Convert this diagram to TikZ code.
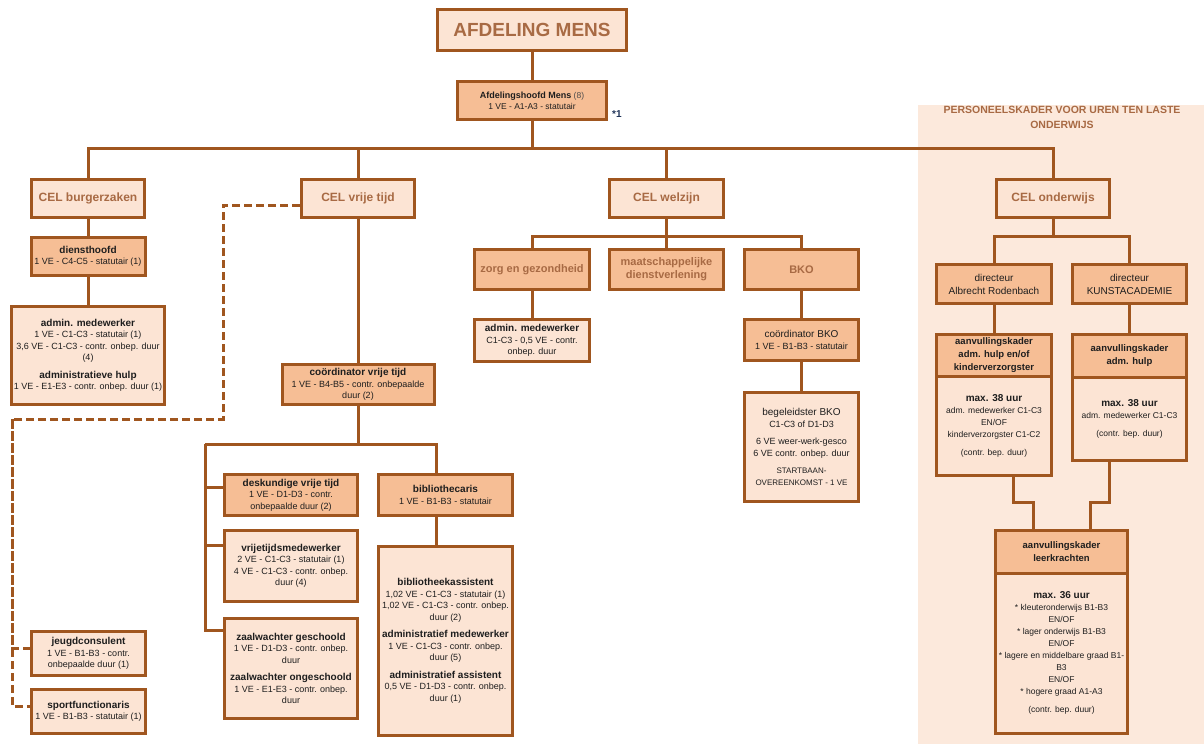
\documentclass[tikz,border=0pt]{standalone}
\usepackage{fontspec}
\setmainfont{Liberation Sans}
\definecolor{brd}{HTML}{A0561F}
\definecolor{lt}{HTML}{FCE4D4}
\definecolor{dk}{HTML}{F6BE95}
\definecolor{bgp}{HTML}{FCE9DC}
\definecolor{celtxt}{HTML}{A86A44}
\definecolor{txt}{HTML}{1E1E1E}
\definecolor{startxt}{HTML}{1F3358}
\newcommand\ttl[1]{{\fontsize{10}{12}\selectfont\bfseries #1}}
\tikzset{
 box/.style={draw=brd, line width=3pt, align=center, inner sep=2pt, text=txt, font=\fontsize{9}{11.5}\selectfont},
 lbox/.style={box, fill=lt},
 dbox/.style={box, fill=dk},
 cel/.style={lbox, text=celtxt, font=\fontsize{12}{14}\selectfont\bfseries},
 sub/.style={dbox, text=celtxt, font=\fontsize{11}{13}\selectfont\bfseries},
 conn/.style={draw=brd, line width=3pt},
 dconn/.style={conn, dash pattern=on 8pt off 4pt},
}
\begin{document}
\begin{tikzpicture}[x=1pt,y=-1pt]
\path[use as bounding box] (0,0) rectangle (1204,744);
\fill[bgp] (918,105) rectangle (1204,744);
\begin{scope}
\clip (918,105) rectangle (1204,744);
\node[font=\fontsize{10.5}{15}\selectfont\bfseries, text=celtxt, align=center] (ph) at (1062,117) {PERSONEELSKADER VOOR UREN TEN LASTE\\ONDERWIJS};
\end{scope}

% nodes
\node[lbox, minimum width=189, minimum height=41, text=celtxt, font=\fontsize{19}{22}\selectfont\bfseries] (top) at (532,30) {AFDELING MENS};
\node[dbox, minimum width=149, minimum height=38, font=\fontsize{8.5}{11}\selectfont] (head) at (532,100.5) {{\fontsize{9}{11}\selectfont\bfseries Afdelingshoofd Mens} {\color{gray!60!black}(8)}\\1 VE - A1-A3 - statutair};
\node[font=\fontsize{10}{12}\selectfont\bfseries, text=startxt, anchor=west, inner sep=0pt] (st) at (612,114) {*1};

\node[cel, minimum width=113, minimum height=38] (cb) at (88,198.5) {CEL burgerzaken};
\node[cel, minimum width=113, minimum height=38] (cv) at (358,198.5) {CEL vrije tijd};
\node[cel, minimum width=114, minimum height=38] (cw) at (666.5,198.5) {CEL welzijn};
\node[cel, minimum width=113, minimum height=38] (co) at (1053,198.5) {CEL onderwijs};

\node[dbox, minimum width=114, minimum height=38] (dh) at (88,256.5) {\ttl{diensthoofd}\\1 VE - C4-C5 - statutair (1)};
\node[lbox, minimum width=151, minimum height=98] (am1) at (88,355.5) {\ttl{admin. medewerker}\\1 VE - C1-C3 - statutair (1)\\3,6 VE - C1-C3 - contr. onbep. duur\\(4)\\[6pt]\ttl{administratieve hulp}\\1 VE - E1-E3 - contr. onbep. duur (1)};

\node[dbox, minimum width=152, minimum height=40] (cvt) at (358,384.5) {\ttl{coördinator vrije tijd}\\1 VE - B4-B5 - contr. onbepaalde\\duur (2)};
\node[dbox, minimum width=133, minimum height=41] (dvt) at (291,495) {\ttl{deskundige vrije tijd}\\1 VE - D1-D3 - contr.\\onbepaalde duur (2)};
\node[lbox, minimum width=133, minimum height=71] (vtm) at (291,566) {\ttl{vrijetijdsmedewerker}\\2 VE - C1-C3 - statutair (1)\\4 VE - C1-C3 - contr. onbep.\\duur (4)};
\node[lbox, minimum width=133, minimum height=100] (zw) at (291,668.5) {\ttl{zaalwachter geschoold}\\1 VE - D1-D3 - contr. onbep.\\duur\\[6pt]\ttl{zaalwachter ongeschoold}\\1 VE - E1-E3 - contr. onbep.\\duur};
\node[dbox, minimum width=134, minimum height=41] (bib) at (445.5,495) {\ttl{bibliothecaris}\\1 VE - B1-B3 - statutair};
\node[lbox, minimum width=134, minimum height=189] (bas) at (445.5,641) {\ttl{bibliotheekassistent}\\1,02 VE - C1-C3 - statutair (1)\\1,02 VE - C1-C3 - contr. onbep.\\duur (2)\\[6pt]\ttl{administratief medewerker}\\1 VE - C1-C3 - contr. onbep.\\duur (5)\\[6pt]\ttl{administratief assistent}\\0,5 VE - D1-D3 - contr. onbep.\\duur (1)};
\node[lbox, minimum width=114, minimum height=44] (jc) at (88.5,653.5) {\ttl{jeugdconsulent}\\1 VE - B1-B3 - contr.\\onbepaalde duur (1)};
\node[lbox, minimum width=114, minimum height=44] (sf) at (88.5,711.5) {\ttl{sportfunctionaris}\\1 VE - B1-B3 - statutair (1)};

\node[sub, minimum width=115, minimum height=40] (zg) at (532,269.5) {zorg en gezondheid};
\node[sub, minimum width=114, minimum height=40] (md) at (666.5,269.5) {maatschappelijke\\dienstverlening};
\node[sub, minimum width=114, minimum height=40] (bko) at (801.5,269.5) {BKO};
\node[lbox, minimum width=115, minimum height=42] (amw) at (532,340.5) {\ttl{admin. medewerker}\\C1-C3 - 0,5 VE - contr.\\onbep. duur};
\node[dbox, minimum width=114, minimum height=41] (cbko) at (801.5,340) {{\fontsize{10}{12}\selectfont coördinator BKO}\\1 VE - B1-B3 - statutair};
\node[lbox, minimum width=114, minimum height=109] (beg) at (801.5,447) {{\fontsize{10}{12}\selectfont begeleidster BKO}\\C1-C3 of D1-D3\\[6pt]6 VE weer-werk-gesco\\6 VE contr. onbep. duur\\[6pt]{\fontsize{8}{10}\selectfont STARTBAAN-}\\{\fontsize{8}{10}\selectfont OVEREENKOMST - 1 VE}};

\node[dbox, minimum width=115, minimum height=39, font=\fontsize{10}{13}\selectfont] (dar) at (994,284) {directeur\\Albrecht Rodenbach};
\node[dbox, minimum width=114, minimum height=39, font=\fontsize{10}{13}\selectfont] (dka) at (1129.5,284) {directeur\\KUNSTACADEMIE};
\node[lbox, minimum width=115, minimum height=99.5, font=\fontsize{8.5}{12}\selectfont] (ak1b) at (994,425.75) {\ttl{max. 38 uur}\\adm. medewerker C1-C3\\EN/OF\\kinderverzorgster C1-C2\\[6pt](contr. bep. duur)};
\node[dbox, minimum width=115, minimum height=41.5, inner sep=1pt, font=\fontsize{9.5}{13}\selectfont\bfseries] (ak1h) at (994,355.25) {aanvullingskader\\adm. hulp en/of\\kinderverzorgster};
\node[lbox, minimum width=114, minimum height=83.5, font=\fontsize{8.5}{12}\selectfont] (ak2b) at (1129.5,418.75) {\ttl{max. 38 uur}\\adm. medewerker C1-C3\\[6pt](contr. bep. duur)};
\node[dbox, minimum width=114, minimum height=42.5, font=\fontsize{9.5}{13}\selectfont\bfseries] (ak2h) at (1129.5,355.75) {aanvullingskader\\adm. hulp};
\node[lbox, minimum width=132, minimum height=160.5, font=\fontsize{8.5}{12}\selectfont] (lkb) at (1061.5,653.25) {\ttl{max. 36 uur}\\* kleuteronderwijs B1-B3\\EN/OF\\* lager onderwijs B1-B3\\EN/OF\\* lagere en middelbare graad B1-\\B3\\EN/OF\\* hogere graad A1-A3\\[6pt](contr. bep. duur)};
\node[dbox, minimum width=132, minimum height=42.5, font=\fontsize{9.5}{13}\selectfont\bfseries] (lkh) at (1061.5,551.75) {aanvullingskader\\leerkrachten};

% connectors
\coordinate (hb) at (532,148);
\draw[conn] (top.south) -- (head.north);
\draw[conn] (head.south) -- (hb);
\draw[conn] (cb.north) |- (hb);
\draw[conn] (co.north) |- (hb);
\draw[conn] (cv.north) -- (cv.north |- hb);
\draw[conn] (cw.north) -- (cw.north |- hb);

\draw[conn] (cb.south) -- (dh.north);
\draw[conn] (dh.south) -- (am1.north);

\draw[conn] (cv.south) -- (cvt.north);
\coordinate (vl) at (205,444);
\coordinate (bt) at ([xshift=-9.5pt]bib.north);
\coordinate (bbt) at ([xshift=-9.5pt]bib.south);
\coordinate (bat) at ([xshift=-9.5pt]bas.north);
\draw[conn] (cvt.south) -- (cvt.south |- vl);
\draw[conn] (vl) -| (bt);
\draw[conn] (vl) |- ([yshift=-14pt]dvt.north west);
\draw[conn] (vl) |- ([yshift=-16pt]vtm.north west);
\draw[conn] (vl) |- ([yshift=-13pt]zw.north west);
\draw[conn] (bbt) -- (bat);

\coordinate (d1) at (223,419);
\coordinate (d2) at (12,419);
\draw[dconn] ([yshift=-6.5pt]cv.west) -| (d1) -- (d2) |- ([yshift=5.5pt]sf.west);
\draw[dconn] (d2) |- ([yshift=5.5pt]jc.west);

\coordinate (wb) at (666.5,236);
\draw[conn] (cw.south) -- (wb);
\draw[conn] (zg.north) |- (wb);
\draw[conn] (bko.north) |- (wb);
\draw[conn] (md.north) -- (wb);
\draw[conn] (zg.south) -- (amw.north);
\draw[conn] (bko.south) -- (cbko.north);
\draw[conn] (cbko.south) -- (beg.north);

\coordinate (ob) at (1053,236);
\draw[conn] (co.south) -- (ob);
\draw[conn] (dar.north) |- (ob);
\draw[conn] (dka.north) |- (ob);
\draw[conn] (dar.south) -- (ak1h.north);
\draw[conn] (dka.south) -- (ak2h.north);
\coordinate (j1) at (1033,502);
\coordinate (j2) at (1090,502);
\draw[conn] ([xshift=19pt]ak1b.south) |- (j1) -- ([xshift=-28.5pt]lkh.north);
\draw[conn] ([xshift=-20.5pt]ak2b.south) |- (j2) -- ([xshift=28.5pt]lkh.north);
\end{tikzpicture}
\end{document}
